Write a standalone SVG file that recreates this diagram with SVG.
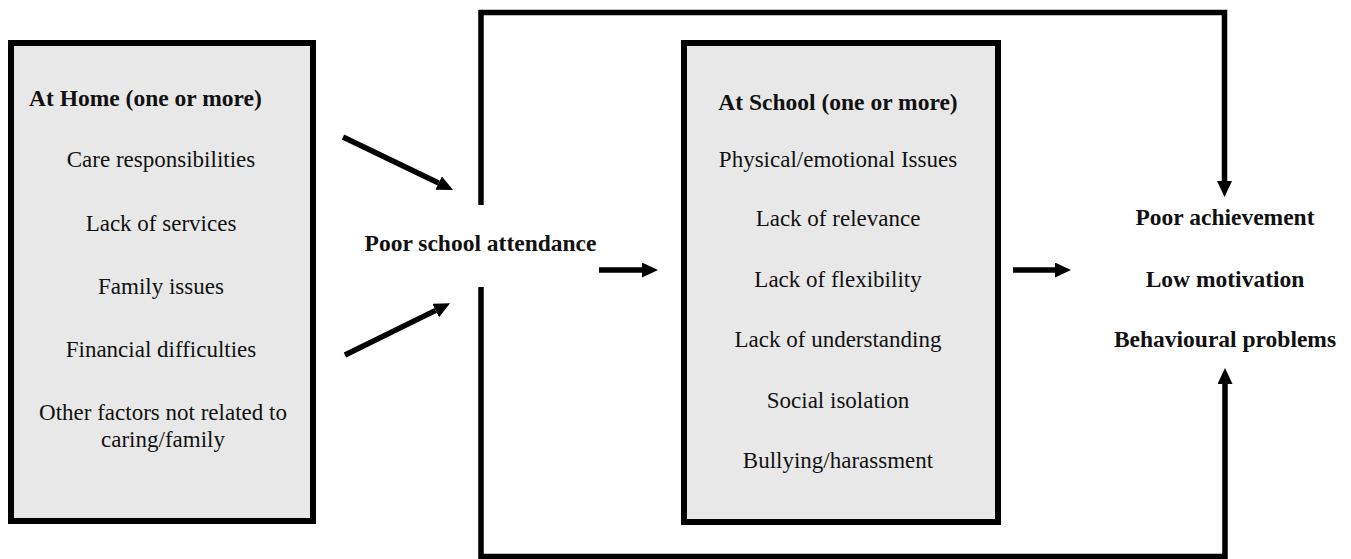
<svg xmlns="http://www.w3.org/2000/svg" width="1351" height="559" viewBox="0 0 1351 559">
<style>
  .box { fill: #e8e8e8; stroke: #000; stroke-width: 6; }
  .t { font-family: "Liberation Serif", Tinos, "Times New Roman", Times, "Noto Serif", "DejaVu Serif", Georgia, serif; font-size: 23px; fill: #111; text-anchor: middle; }
  .b { font-family: "Liberation Serif", Tinos, "Times New Roman", Times, "Noto Serif", "DejaVu Serif", Georgia, serif; font-size: 23.5px; font-weight: bold; fill: #111; text-anchor: middle; }
  .c { fill: none; stroke: #000; stroke-width: 5.5; stroke-linejoin: miter; }
</style>
<defs>
  <marker id="ah" markerUnits="userSpaceOnUse" markerWidth="17" markerHeight="16" refX="0" refY="7.5" orient="auto">
    <path d="M0,0 L16,7.5 L0,15 z" fill="#000"/>
  </marker>
</defs>
<rect width="1351" height="559" fill="#fff"/>

<g id="home">
  <rect class="box" x="11" y="43" width="302" height="478"/>
  <text class="b" x="29" y="106" style="text-anchor:start">At Home (one or more)</text>
  <text class="t" x="161" y="167">Care responsibilities</text>
  <text class="t" x="161" y="231">Lack of services</text>
  <text class="t" x="161" y="294">Family issues</text>
  <text class="t" x="161" y="357">Financial difficulties</text>
  <text class="t" x="163" y="420">Other factors not related to</text>
  <text class="t" x="163" y="447">caring/family</text>
</g>

<g id="attendance">
  <text class="b" x="480.5" y="251">Poor school attendance</text>
</g>

<g id="school">
  <rect class="box" x="684" y="43" width="314" height="479"/>
  <text class="b" x="838" y="110">At School (one or more)</text>
  <text class="t" x="838" y="167">Physical/emotional Issues</text>
  <text class="t" x="838" y="226">Lack of relevance</text>
  <text class="t" x="838" y="287">Lack of flexibility</text>
  <text class="t" x="838" y="347">Lack of understanding</text>
  <text class="t" x="838" y="408">Social isolation</text>
  <text class="t" x="838" y="468">Bullying/harassment</text>
</g>

<g id="outcomes">
  <text class="b" x="1225" y="225">Poor achievement</text>
  <text class="b" x="1225" y="287">Low motivation</text>
  <text class="b" x="1225" y="347">Behavioural problems</text>
</g>

<g id="connectors">
  <path class="c" d="M343,137 L438.6,183.1" marker-end="url(#ah)"/>
  <path class="c" d="M345,355 L435.7,310.4" marker-end="url(#ah)"/>
  <path class="c" d="M481,205 L481,12.5 L1224.5,12.5 L1224.5,181" marker-end="url(#ah)"/>
  <path class="c" d="M481,287 L481,556.5 L1225,556.5 L1225,384" marker-end="url(#ah)"/>
  <path class="c" d="M599,270 L642,270" marker-end="url(#ah)"/>
  <path class="c" d="M1013,270 L1055,270" marker-end="url(#ah)"/>
</g>
</svg>
